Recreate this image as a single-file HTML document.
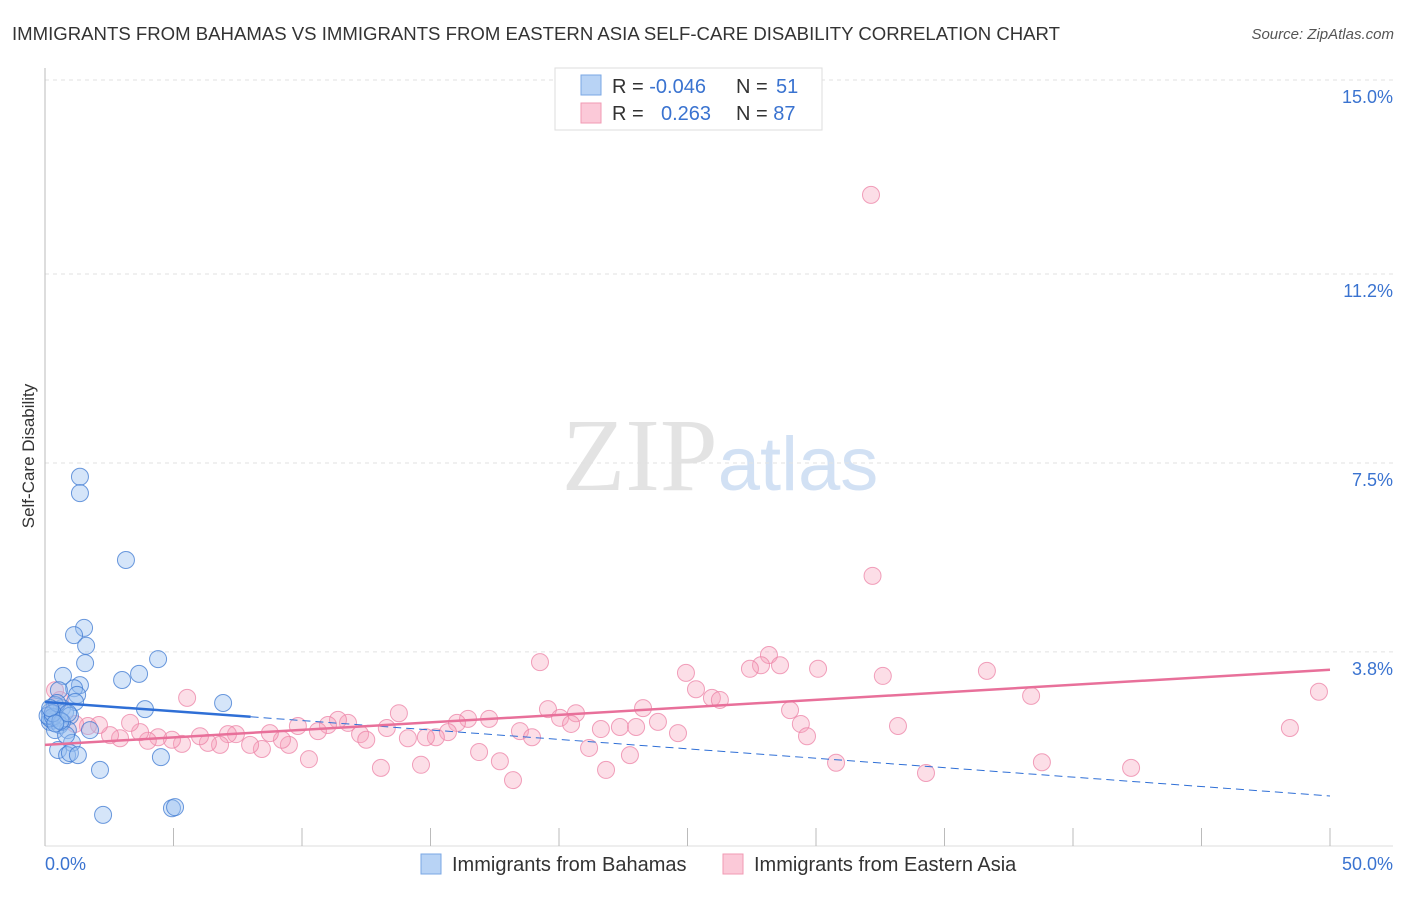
<!DOCTYPE html>
<html><head><meta charset="utf-8"><style>
body{margin:0;background:#fff;font-family:"Liberation Sans",sans-serif}
</style></head><body>
<svg width="1406" height="892" xmlns="http://www.w3.org/2000/svg" font-family="Liberation Sans, sans-serif">
<text x="12" y="40" font-size="18" fill="#333" textLength="1048" lengthAdjust="spacingAndGlyphs">IMMIGRANTS FROM BAHAMAS VS IMMIGRANTS FROM EASTERN ASIA SELF-CARE DISABILITY CORRELATION CHART</text>
<text x="1394" y="39" font-size="15" fill="#555" text-anchor="end" font-style="italic">Source: ZipAtlas.com</text>
<text x="720" y="490" font-size="104" text-anchor="middle" font-family="Liberation Serif, serif" fill="#ddd" opacity="0.8">ZIP<tspan fill="#c8daf2" font-family="Liberation Sans, sans-serif" font-size="76">atlas</tspan></text>
<g id="grid"></g>
<g id="marks"></g>
<text transform="translate(34,456) rotate(-90)" font-size="17" fill="#333" text-anchor="middle">Self-Care Disability</text>
<g>
<rect x="555" y="68" width="267" height="62" fill="#fff" stroke="#ddd"/>
<rect x="581" y="75" width="20" height="20" fill="#b8d3f5" stroke="#7aa7e4"/>
<rect x="581" y="103" width="20" height="20" fill="#fbc9d8" stroke="#f09ab3"/>
<text x="612" y="93" font-size="20" fill="#333">R = <tspan fill="#3a73d0">-0.046</tspan><tspan x="736">N = </tspan><tspan fill="#3a73d0" x="776">51</tspan></text>
<text x="612" y="120" font-size="20" fill="#333">R = <tspan fill="#3a73d0" x="661">0.263</tspan><tspan x="736">N = </tspan><tspan fill="#3a73d0">87</tspan></text>
</g>
<g>
<rect x="421" y="854" width="20" height="20" fill="#b8d3f5" stroke="#7aa7e4"/>
<text x="452" y="871" font-size="20" fill="#333">Immigrants from Bahamas</text>
<rect x="723" y="854" width="20" height="20" fill="#fbc9d8" stroke="#f09ab3"/>
<text x="754" y="871" font-size="20" fill="#333">Immigrants from Eastern Asia</text>
</g>
<text x="45" y="870" font-size="18" fill="#3a73d0">0.0%</text>
<text x="1393" y="870" font-size="18" fill="#3a73d0" text-anchor="end">50.0%</text>
</svg>
<script>
const yTicks=[15.0,11.2,7.5,3.8];
const yTickLabels=["15.0%","11.2%","7.5%","3.8%"];
const xTicks=[0,5,10,15,20,25,30,35,40,45,50];
const blueX=[1.36,1.36,3.15,1.52,1.13,1.6,1.56,4.4,3.66,3.0,0.7,1.36,1.13,1.25,0.54,6.93,3.89,1.17,0.66,0.39,0.19,0.27,0.47,0.78,0.97,0.19,0.58,0.39,0.89,1.75,1.05,0.51,0.86,0.97,1.28,2.14,4.51,2.26,4.94,5.06,0.19,0.1,0.31,0.66,0.82,0.47,0.3,0.6,0.2,0.9,0.4];
const blueY=[7.23,6.91,5.6,4.27,4.13,3.92,3.58,3.66,3.37,3.25,3.33,3.15,3.09,2.96,3.05,2.8,2.68,2.82,2.7,2.76,2.62,2.47,2.51,2.62,2.55,2.43,2.37,2.27,2.27,2.27,2.02,1.88,1.78,1.82,1.78,1.49,1.74,0.61,0.74,0.76,2.5,2.55,2.53,2.43,2.17,2.8,2.6,2.45,2.7,2.6,2.4];
const pinkX=[32.14,32.2,19.26,28.17,27.86,27.43,28.6,30.08,24.94,32.6,36.65,25.33,25.95,26.26,38.37,49.57,5.53,19.57,20.66,20.04,13.77,28.99,23.27,23.85,20.47,21.63,22.37,23.0,17.28,16.46,16.03,15.68,15.21,14.82,14.12,13.3,12.26,12.5,11.79,11.4,11.01,10.62,9.84,9.49,9.22,8.75,8.44,7.98,7.43,7.12,6.81,6.34,6.03,5.33,4.94,4.4,4.0,3.7,3.31,2.92,2.53,2.1,1.67,1.17,0.58,0.39,0.3,18.48,18.95,24.63,29.41,29.65,33.19,48.44,16.89,17.7,18.21,21.17,22.76,21.83,14.63,13.07,10.27,30.78,34.28,38.79,42.26];
const pinkY=[12.75,5.29,3.6,3.74,3.54,3.47,3.54,3.47,3.39,3.33,3.43,3.07,2.9,2.86,2.94,3.02,2.9,2.68,2.6,2.51,2.6,2.66,2.7,2.43,2.39,2.29,2.33,2.33,2.49,2.49,2.41,2.23,2.13,2.13,2.11,2.31,2.19,2.08,2.41,2.47,2.37,2.25,2.35,1.98,2.08,2.21,1.9,1.98,2.19,2.19,1.98,2.02,2.15,2.0,2.08,2.13,2.06,2.23,2.41,2.11,2.17,2.37,2.35,2.39,2.86,3.05,2.62,2.25,2.13,2.21,2.39,2.15,2.35,2.31,1.84,1.66,1.29,1.92,1.78,1.49,1.59,1.53,1.7,1.63,1.43,1.64,1.53];
const blueTrendX=[0,8,50];
const blueTrendY=[2.82,2.53,0.98];
const pinkTrendX=[0,50];
const pinkTrendY=[1.98,3.45];
const NS="http://www.w3.org/2000/svg";
const X=v=>45+v*25.7;
const Y=v=>846-v*51.07;
function mk(t,a,p){const e=document.createElementNS(NS,t);for(const k in a)e.setAttribute(k,a[k]);p.appendChild(e);return e;}
const grid=document.getElementById('grid'),marks=document.getElementById('marks');
yTicks.forEach((t,i)=>{
  const l=mk('line',{x1:45,x2:1393,y1:Y(t),y2:Y(t),stroke:'#e2e2e2','stroke-dasharray':'4,4'},grid);
  
  
  const tx=mk('text',{x:1393,y:Y(t)+23,'font-size':18,fill:'#3a73d0','text-anchor':'end'},grid);
  tx.textContent=yTickLabels[i];
  
  
});
const ax=mk('line',{x1:45,x2:45,y1:68,y2:846,stroke:'#bbb'},grid);


const bx=mk('line',{x1:45,x2:1393,y1:846,y2:846,stroke:'#ddd'},grid);


xTicks.forEach(t=>{
  const l=mk('line',{x1:X(t),x2:X(t),y1:828,y2:846,stroke:'#bbb'},grid);
  
  
});
pinkX.forEach((v,i)=>{
  const c=mk('circle',{cx:X(v),cy:Y(pinkY[i]),r:8.5,fill:'rgba(246,160,186,0.35)',stroke:'rgba(236,130,165,0.75)','stroke-width':1},marks);
  
  
});
blueX.forEach((v,i)=>{
  const c=mk('circle',{cx:X(v),cy:Y(blueY[i]),r:8.5,fill:'rgba(150,190,240,0.4)',stroke:'rgba(60,120,210,0.75)','stroke-width':1},marks);
  
  
});
const b1=mk('line',{x1:X(blueTrendX[0]),y1:Y(blueTrendY[0]),x2:X(blueTrendX[1]),y2:Y(blueTrendY[1]),stroke:'#2f6fd6','stroke-width':2.5},marks);


const b2=mk('line',{x1:X(blueTrendX[1]),y1:Y(blueTrendY[1]),x2:X(blueTrendX[2]),y2:Y(blueTrendY[2]),stroke:'#2f6fd6','stroke-width':1,'stroke-dasharray':'8,5'},marks);


const p1=mk('line',{x1:X(pinkTrendX[0]),y1:Y(pinkTrendY[0]),x2:X(pinkTrendX[1]),y2:Y(pinkTrendY[1]),stroke:'#e8709a','stroke-width':2.5},marks);


</script>
</body></html>
